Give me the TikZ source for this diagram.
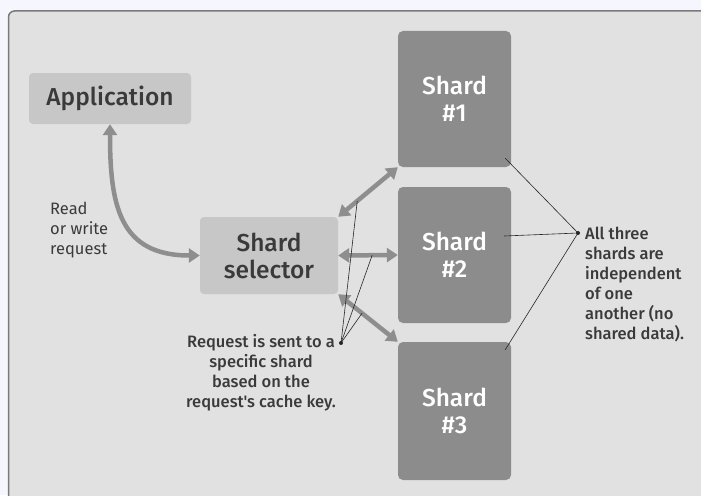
\documentclass[tikz,border=0pt]{standalone}
\usepackage{fontspec}
\setmainfont{Fira Sans}
\newfontfamily\medfont{Fira Sans Medium}
\usetikzlibrary{arrows.meta,calc}
\definecolor{outerbg}{HTML}{F6F7FE}
\definecolor{panelbg}{HTML}{E1E1E1}
\definecolor{panelborder}{HTML}{7A7A7A}
\definecolor{lightbox}{HTML}{C7C7C7}
\definecolor{shardbox}{HTML}{8C8C8C}
\definecolor{arrowgray}{HTML}{8E8E8E}
\definecolor{textdark}{HTML}{3A3A3A}
\tikzset{
  lightnode/.style={fill=lightbox, rounded corners=4pt, inner sep=0pt, text=textdark, align=center, font=\medfont\fontsize{24.5}{27}\selectfont},
  shardnode/.style={fill=shardbox, rounded corners=5pt, inner sep=0pt, text=white, align=center, minimum width=113pt, font=\medfont\fontsize{24.5}{27}\selectfont},
  bigarrow/.style={draw=arrowgray, line width=4.5pt, {Triangle[length=11pt,width=14pt]}-{Triangle[length=11pt,width=14pt]}},
  callout/.style={draw=black!85, line width=0.6pt},
  calloutdot/.style={circle, fill=black!85, inner sep=0pt, minimum size=4pt},
  notetext/.style={text=textdark, inner sep=0pt, font=\medfont\fontsize{16.5}{20}\selectfont},
}
\begin{document}
\begin{tikzpicture}[x=1pt,y=-1pt]
\useasboundingbox (0,0) rectangle (701,495);
\fill[outerbg] (0,0) rectangle (701,495);
\draw[panelborder, line width=1.5pt, fill=panelbg, rounded corners=6pt] (720,11) -- (8.5,11) -- (8.5,510) -- (720,510);
\node[lightnode, minimum width=162pt, minimum height=51pt] (app) at (110,98.5) {Application};
\node[lightnode, minimum width=138pt, minimum height=77pt] (sel) at (269,255.5) {Shard\\selector};
\node[shardnode, minimum height=136pt] (s1) at (454.5,99) {Shard\\\#1};
\node[shardnode, minimum height=136pt] (s2) at (454.5,255) {Shard\\\#2};
\node[shardnode, minimum height=138pt] (s3) at (454.5,411) {Shard\\\#3};
\draw[bigarrow] (app.south) to[out=-90,in=180,looseness=1.3] (sel.west);
\draw[bigarrow] (sel.north east) -- coordinate[pos=0.32] (pa) (s1.south west);
\draw[bigarrow] (sel.east) -- coordinate[pos=0.57] (pb) (s2.west);
\draw[bigarrow] (sel.south east) -- coordinate[pos=0.4] (pc) (s3.north west);
\node[text=textdark, inner sep=0pt, anchor=north west, align=left, font=\fontsize{16.5}{20}\selectfont] (rw) at (50,202) {Read\\or write\\request};
\node[notetext, anchor=north, align=center] (req) at (261,334) {Request is sent to a\\specific shard\\based on the\\request's cache key.};
\node[notetext, anchor=north west, align=left] (ind) at (585,227) {All three\\shards are\\independent\\of one\\another (no\\shared data).};
\node[calloutdot] (d1) at (341,343) {};
\node[calloutdot] (d2) at (578,233) {};
\draw[callout] (d1.center) -- (pa);
\draw[callout] (d1.center) -- (pb);
\draw[callout] (d1.center) -- (pc);
\draw[callout] (d2.center) -- ($(s1.south east)+(-6,-9)$);
\draw[callout] (d2.center) -- ($(s2.east)+(-7,-19)$);
\draw[callout] (d2.center) -- ($(s3.north east)+(-6,8)$);
\end{tikzpicture}
\end{document}
